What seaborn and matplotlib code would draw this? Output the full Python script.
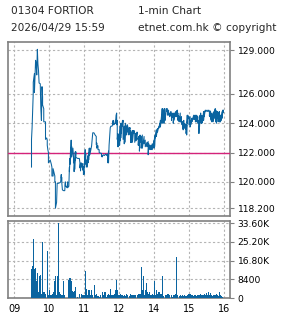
import matplotlib
matplotlib.use("Agg")
import matplotlib.pyplot as plt
import pandas as pd
import seaborn as sns

# ---------------- data ----------------
# minutes since 09:00 on a trading-time axis (lunch 12:00-13:00 removed)
hour_pos = [0, 60, 120, 180, 240, 300, 360]
hour_labels = ["09", "10", "11", "12", "14", "15", "16"]

price_ticks = [118.2, 120.0, 122.0, 124.0, 126.0, 129.0]
prev_close = 122.0
vol_ticks = [0, 8400, 16800, 25200, 33600]
vol_tick_labels = ["0", "8400", "16.80K", "25.20K", "33.60K"]

price_min = [30, 31, 33, 35, 37, 38, 39, 40, 41, 42, 43, 45, 46, 47, 48, 49, 51, 54, 56, 57,
             58, 59, 62, 64, 65, 67, 70, 71, 72, 73, 74, 76, 79, 80, 81, 82, 83, 85, 87, 88,
             90, 91, 92, 94, 95, 96, 97, 98, 99, 101, 102, 103, 104, 105, 106, 107, 109, 112, 113, 114,
             115, 117, 118, 119, 120, 121, 122, 123, 125, 126, 127, 128, 129, 130, 133, 135, 137, 139, 141, 142,
             143, 144, 145, 146, 149, 150, 151, 153, 155, 157, 159, 160, 161, 162, 163, 165, 166, 168, 169, 170,
             171, 173, 174, 175, 176, 177, 178, 179, 181, 182, 183, 184, 185, 186, 187, 189, 190, 191, 192, 193,
             194, 195, 197, 198, 199, 200, 201, 202, 203, 205, 206, 207, 209, 211, 213, 214, 215, 216, 218, 220,
             223, 225, 228, 230, 231, 233, 235, 237, 240, 241, 242, 244, 246, 248, 250, 251, 253, 254, 255, 256,
             257, 258, 259, 261, 263, 265, 267, 269, 270, 271, 273, 274, 275, 277, 279, 280, 281, 282, 283, 285,
             286, 287, 288, 289, 290, 291, 293, 294, 295, 296, 297, 298, 300, 302, 303, 305, 308, 310, 311, 312,
             313, 314, 315, 317, 318, 319, 320, 321, 322, 323, 325, 326, 328, 331, 334, 335, 336, 337, 338, 339,
             341, 342, 343, 344, 345, 346, 347, 349, 350, 351, 352, 353, 354, 355, 357, 358, 359]
price_a = [121.0, 123.7, 126.1, 127.4, 128.3, 128.1, 127.3, 129.05, 128.05, 127.6, 126.75, 126.7, 125.0, 124.2, 126.5, 125.8, 125.0, 124.1, 123.0, 122.85,
           122.2, 122.0, 121.5, 121.2, 121.0, 120.4, 120.4, 120.0, 118.4, 118.6, 119.9, 119.9, 119.95, 120.0, 120.5, 120.3, 119.45, 119.4, 119.4, 120.0,
           119.7, 119.6, 120.0, 119.7, 121.0, 121.6, 122.3, 122.85, 122.4, 122.3, 121.7, 121.3, 121.5, 122.05, 122.05, 121.65, 121.6, 121.6, 121.3, 121.25,
           121.3, 121.1, 121.25, 121.05, 120.7, 121.5, 122.2, 121.9, 121.5, 121.6, 121.8, 122.0, 122.3, 122.3, 122.45, 123.35, 123.35, 123.2, 123.1, 122.65,
           122.5, 122.45, 122.2, 122.2, 121.95, 121.95, 121.8, 121.85, 121.8, 121.9, 121.8, 121.9, 121.7, 122.1, 122.5, 123.7, 123.8, 123.8, 123.9, 124.2,
           124.0, 124.0, 124.2, 124.55, 124.7, 124.2, 123.3, 123.2, 123.3, 123.8, 124.0, 123.8, 124.0, 124.2, 124.2, 123.8, 123.8, 124.0, 123.8, 123.8,
           123.9, 123.8, 123.7, 123.7, 123.7, 123.5, 123.3, 123.4, 123.5, 123.5, 123.5, 123.3, 123.3, 123.4, 123.0, 123.1, 122.9, 123.2, 123.1, 123.2,
           123.1, 122.85, 122.7, 122.75, 122.6, 122.5, 122.5, 122.6, 122.85, 123.1, 123.2, 123.55, 123.65, 123.75, 124.0, 124.2, 124.55, 125.0, 125.0, 124.9,
           124.8, 125.0, 124.7, 125.0, 125.0, 124.9, 124.7, 124.8, 124.55, 124.7, 124.55, 124.7, 124.55, 124.8, 124.85, 124.9, 124.7, 124.55, 124.45, 124.7,
           124.35, 124.45, 124.1, 124.1, 123.9, 124.2, 124.0, 123.9, 123.75, 123.9, 124.55, 124.55, 124.45, 124.45, 124.2, 124.35, 124.55, 124.55, 124.55, 124.35,
           124.55, 124.5, 124.45, 124.2, 124.35, 124.55, 124.7, 124.2, 124.55, 124.45, 124.8, 124.8, 124.9, 124.9, 124.9, 124.8, 124.85, 124.8, 124.7, 124.55,
           124.7, 124.7, 124.8, 124.9, 125.0, 124.9, 124.8, 124.8, 124.7, 124.7, 124.8, 124.55, 124.55, 124.55, 124.8, 124.9, 124.9]
price_b = [122.9, 123.7, 126.8, 126.1, 128.3, 128.1, 127.3, 129.05, 128.05, 127.6, 126.75, 126.7, 125.0, 124.2, 126.5, 125.25, 124.1, 122.9, 123.0, 122.5,
           122.2, 121.3, 121.5, 121.2, 120.4, 120.9, 120.0, 118.2, 118.4, 118.6, 119.9, 119.9, 119.95, 120.0, 120.25, 119.9, 119.45, 119.4, 119.4, 119.7,
           119.7, 119.6, 119.6, 119.7, 120.7, 121.2, 121.6, 122.2, 121.7, 122.3, 121.3, 120.7, 120.85, 121.5, 121.7, 121.65, 121.6, 121.6, 120.95, 120.75,
           121.0, 121.1, 120.8, 120.5, 120.5, 121.0, 121.6, 121.2, 121.0, 121.3, 121.3, 121.5, 121.8, 121.85, 122.45, 123.35, 123.35, 123.2, 122.55, 122.3,
           122.5, 122.2, 122.2, 122.0, 121.95, 121.75, 121.7, 121.85, 121.8, 121.9, 121.8, 121.9, 121.3, 121.3, 122.5, 123.7, 123.8, 123.8, 124.0, 123.9,
           123.9, 124.0, 124.0, 124.55, 123.9, 122.9, 122.4, 122.4, 122.5, 122.8, 123.0, 123.3, 123.8, 124.0, 122.9, 122.6, 122.7, 123.3, 123.6, 123.2,
           123.9, 123.4, 123.2, 123.6, 123.3, 122.7, 122.7, 122.9, 122.7, 123.3, 123.5, 122.7, 122.8, 122.9, 122.5, 122.5, 122.1, 122.7, 122.3, 122.3,
           122.6, 122.4, 122.4, 121.85, 122.2, 122.2, 122.2, 122.2, 122.3, 122.4, 123.0, 123.1, 123.4, 123.65, 123.75, 123.75, 124.1, 124.0, 124.1, 124.2,
           124.0, 124.45, 124.2, 124.8, 124.55, 124.55, 124.45, 124.55, 124.2, 124.4, 124.0, 124.2, 124.55, 124.45, 124.45, 124.55, 124.2, 124.2, 124.1, 124.1,
           124.1, 124.0, 123.9, 123.65, 123.55, 123.75, 123.65, 123.6, 123.3, 123.2, 124.0, 124.3, 123.9, 123.75, 123.9, 124.1, 124.25, 124.25, 124.1, 124.1,
           124.2, 124.1, 124.0, 123.3, 123.75, 124.1, 124.1, 124.0, 124.0, 124.05, 124.2, 124.45, 124.8, 124.8, 124.8, 124.5, 124.45, 124.3, 124.2, 124.1,
           124.1, 124.2, 124.45, 124.35, 124.45, 124.1, 124.0, 124.35, 124.1, 124.35, 124.1, 124.1, 124.1, 124.2, 124.35, 124.7, 124.9]

vol_min = [30, 31, 32, 33, 34, 35, 36, 37, 39, 41, 42, 43, 44, 45, 46, 47, 49, 50, 51, 52,
           53, 54, 57, 59, 61, 62, 63, 65, 66, 68, 69, 70, 71, 73, 74, 75, 77, 78, 79, 81,
           83, 85, 86, 87, 94, 95, 96, 97, 98, 99, 101, 102, 103, 104, 105, 106, 109, 112, 113, 115,
           117, 118, 119, 121, 122, 123, 125, 126, 127, 128, 129, 130, 131, 133, 134, 135, 138, 139, 141, 142,
           144, 146, 149, 151, 152, 154, 156, 158, 160, 162, 163, 165, 167, 169, 170, 172, 174, 175, 176, 177,
           178, 180, 182, 183, 185, 186, 188, 190, 191, 193, 195, 198, 200, 202, 204, 206, 207, 209, 211, 213,
           214, 216, 218, 219, 221, 222, 223, 225, 226, 227, 229, 231, 233, 234, 236, 238, 239, 241, 242, 244,
           246, 247, 249, 250, 252, 254, 255, 257, 259, 261, 262, 264, 266, 267, 270, 271, 273, 275, 277, 278,
           279, 281, 283, 285, 287, 289, 291, 293, 294, 296, 298, 299, 301, 303, 305, 306, 308, 310, 311, 313,
           315, 317, 318, 320, 322, 323, 325, 327, 329, 330, 332, 334, 335, 337, 339, 341, 342, 344, 346, 347,
           349, 351, 353, 354, 356, 358]
vol_val = [12800, 13600, 14300, 26600, 15400, 12800, 7400, 13600, 7400, 11200, 2800, 9700, 2800, 10500, 2000, 2000, 25100, 2000, 2800, 2000,
           2800, 2000, 20900, 1200, 3500, 1200, 1200, 1200, 2000, 2800, 2800, 7400, 9700, 1200, 8900, 9700, 33600, 2800, 2000, 1200,
           1200, 7700, 1200, 500, 8200, 8900, 8900, 8200, 7700, 2800, 3100, 2800, 2500, 3100, 5100, 1200, 500, 2000, 2000, 2000,
           1200, 1200, 1500, 1200, 12300, 3500, 4000, 1200, 2800, 3500, 1200, 3500, 1500, 3500, 1200, 1200, 5900, 1500, 1500, 2000,
           900, 500, 1200, 2000, 2500, 1200, 2500, 500, 1200, 2000, 1200, 4000, 1500, 1200, 1500, 2000, 3500, 2800, 8200, 3500,
           1200, 1500, 1200, 2000, 1200, 1500, 900, 1200, 800, 2000, 1200, 900, 2000, 1500, 1500, 1200, 1500, 1200, 1500, 2000,
           1200, 2000, 13900, 3500, 3500, 10000, 1200, 3500, 1500, 6600, 2800, 2000, 2500, 1200, 1500, 2000, 1200, 7400, 1200, 3500,
           2000, 2800, 2500, 1200, 1700, 9700, 1200, 900, 1500, 1200, 900, 2000, 900, 1500, 1200, 500, 1200, 1500, 2000, 18500,
           1500, 1200, 800, 1200, 900, 1200, 900, 1200, 800, 900, 1200, 1800, 1700, 2000, 1500, 1200, 800, 1500, 1200, 800,
           1500, 1200, 1500, 1800, 1200, 1500, 1200, 1800, 1200, 2300, 1500, 2500, 1200, 2300, 1500, 800, 1500, 1200, 1500, 2000,
           1200, 800, 2500, 1200, 800, 500]

title_l1 = "01304 FORTIOR"
title_r1 = "1-min Chart"
title_l2 = "2026/04/29 15:59"
title_r2 = "etnet.com.hk \u00a9 copyright"

# ---------------- style ----------------
BLUE = "#0a64a0"
MAG = "#d4237a"
GRID = "#b4b4b4"
SPINE = "#808080"

sns.set_theme(style="white")
plt.rcParams['font.family'] = ['DejaVu Sans']

W, H = 285, 318
fig = plt.figure(figsize=(W / 100, H / 100), dpi=100)
fig.patch.set_facecolor("white")

ax = fig.add_axes([8 / W, 1 - 216 / H, 222 / W, 174 / H])
axv = fig.add_axes([8 / W, 1 - 298 / H, 222 / W, 77 / H])

# price line (each minute drawn as a vertical stroke between two values)
xs, ys = [], []
for m, a, b in zip(price_min, price_a, price_b):
    xs += [m, m]
    ys += [a, b]
df = pd.DataFrame({"minute": xs, "price": ys})
ax.axhline(prev_close, color=MAG, lw=1.0, zorder=3)
sns.lineplot(data=df, x="minute", y="price", ax=ax, sort=False, estimator=None,
             color=BLUE, lw=0.75, zorder=4)

# volume bars
axv.bar(vol_min, vol_val, width=1.75, color=BLUE, linewidth=0, zorder=3)

xlim = (-10.3, 370.3)
for a in (ax, axv):
    a.set_xlim(*xlim)
    a.set_xticks(hour_pos)
    a.grid(True, linestyle=(0, (2, 2)), color=GRID, lw=0.8, zorder=0)
    a.set_axisbelow(True)
    for s in a.spines.values():
        s.set_visible(True)
        s.set_color(SPINE)
        s.set_linewidth(1.2)
    a.yaxis.tick_right()
    a.tick_params(axis="y", which="both", left=False, right=True, length=3,
                  width=0.8, color=SPINE, labelsize=6.6, pad=2.5, labelcolor="black")
    a.set_xlabel("")
    a.set_ylabel("")

ax.set_ylim(117.67, 129.55)
ax.set_yticks(price_ticks)
ax.set_yticklabels([f"{v:.3f}" for v in price_ticks])
ax.tick_params(axis="x", bottom=False, labelbottom=False)

axv.set_ylim(0, 34500)
axv.set_yticks(vol_ticks)
axv.set_yticklabels(vol_tick_labels)
axv.set_xticklabels(hour_labels)
axv.tick_params(axis="x", bottom=False, length=0, labelsize=7, pad=4, labelcolor="black")

# header text
fs = 7.6
fig.text(11 / W, 1 - 11 / H, title_l1, fontsize=fs, va="center", ha="left")
fig.text(137.5 / W, 1 - 11 / H, title_r1, fontsize=fs, va="center", ha="left")
fig.text(11 / W, 1 - 28 / H, title_l2, fontsize=fs, va="center", ha="left")
fig.text(137.5 / W, 1 - 28 / H, title_r2, fontsize=fs, va="center", ha="left")

fig.savefig("out.png", dpi=100, facecolor="white")
